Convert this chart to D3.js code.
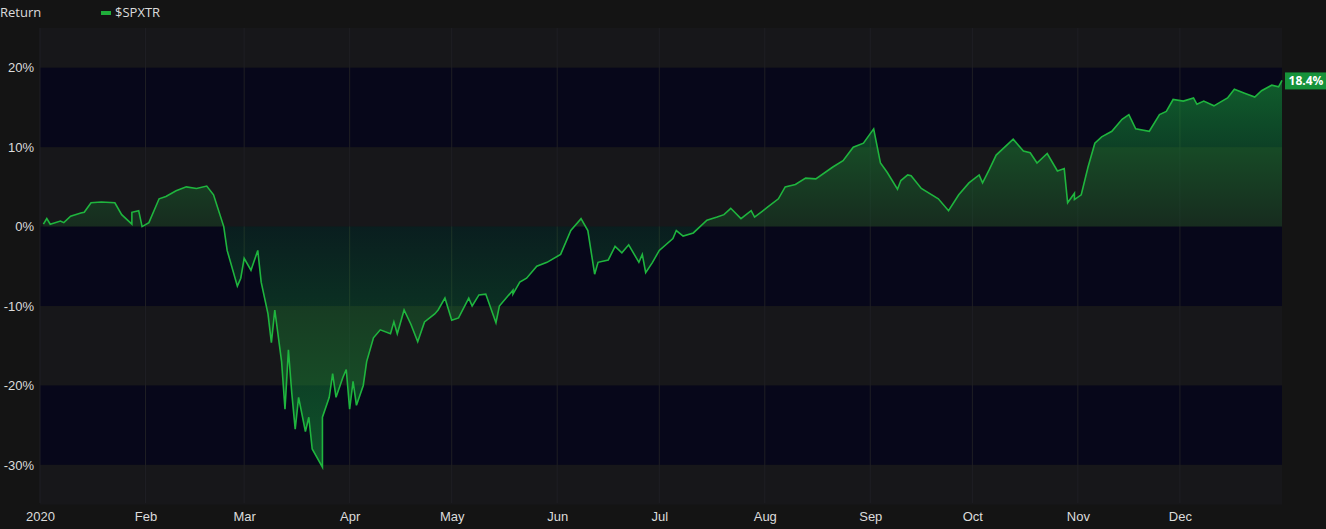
<!DOCTYPE html>
<html><head><meta charset="utf-8">
<script src="https://cdn.jsdelivr.net/npm/d3@7"></script>
<style>body{margin:0;background:#141414;}svg{display:block;font-family:"Open Sans",sans-serif;}</style>
</head><body><svg id="c" width="1326" height="529"></svg>
<script>
// day of year 2020 (0 = Jan 1) and cumulative return in %
const days = [1,2,3,6,7,9,12,13,15,18,22,24,27,27,29,30,32,35,37,40,43,46,49,51,54,55,58,59,60,62,64,65,67,68,69,71,72,73,74,75,76,78,79,80,83,83,85,86,87,89,90,91,92,93,95,96,98,100,103,104,105,107,109,111,113,116,117,119,121,123,126,127,129,131,134,135,137,139,139,141,143,146,149,153,156,159,161,163,164,167,169,171,173,176,177,178,180,182,186,187,189,192,196,199,201,203,206,209,210,214,217,219,222,225,228,233,236,239,242,245,247,249,252,253,255,256,259,264,267,270,273,276,277,279,281,286,289,291,293,296,299,301,302,304,304,306,308,310,312,315,318,320,322,326,329,331,333,336,339,340,342,345,347,349,351,354,357,359,362,364,365];
const returns = [0.3,1.0,0.3,0.7,0.5,1.3,1.7,1.8,3.0,3.1,3.0,1.5,0.3,1.8,2.0,0,0.5,3.5,3.8,4.5,5.0,4.8,5.1,4.0,0,-3.0,-7.5,-6.5,-4,-5.5,-3,-7,-11,-14.6,-10.5,-17,-23,-15.5,-21,-25.5,-21.5,-25.8,-24,-28,-30.3,-24,-21.5,-18.5,-21.5,-19,-18,-23,-19.5,-22.5,-20,-17,-14,-13,-13.5,-12,-13.5,-10.5,-12.3,-14.5,-12,-11,-10.5,-9,-11.8,-11.5,-9,-10,-8.6,-8.5,-12.1,-10,-9,-8,-8.5,-7,-6.5,-5,-4.5,-3.5,-0.5,1,-0.5,-6,-4.5,-4.2,-2.5,-3.3,-2.3,-4.5,-3.5,-5.8,-4.5,-3,-1.5,-0.5,-1.2,-0.8,0.8,1.2,1.5,2.3,1.0,2.0,1.2,2.5,3.5,5.0,5.3,6.1,6.0,7.5,8.3,10,10.5,12.3,8,6.8,4.7,5.8,6.5,6.4,4.8,3.5,2,4,5.5,6.5,5.5,7.2,9,11,9.5,9.3,8,9.2,7,7.3,3,4.2,3.4,4,7.5,10.5,11.3,12,13.5,14.1,12.3,12,14.1,14.5,16,15.8,16.2,15.4,15.8,15.2,15.7,16.2,17.3,16.8,16.3,17.1,17.8,17.6,18.4];
const yTicks = [20,10,0,-10,-20,-30];
const bands = [[20,25],[0,10],[-20,-10],[-35,-30]];
const seriesName = "$SPXTR";

const start = new Date(2020,0,1);
const data = days.map((d,i)=>({date:d3.timeDay.offset(start,d), v:returns[i]}));
const svg = d3.select("#c");
const L=40, R=1282, T=28, B=503;
const x = d3.scaleTime().domain([start,new Date(2020,11,31)]).range([L,R]);
const y = d3.scaleLinear().domain([-34.8,25]).range([B,T]);

svg.append("rect").attr("x",L).attr("y",T).attr("width",R-L).attr("height",B-T).attr("fill","#07071a");
svg.selectAll("rect.band").data(bands).join("rect").attr("class","band")
  .attr("x",L).attr("width",R-L).attr("y",d=>y(d[1])).attr("height",d=>y(d[0])-y(d[1])).attr("fill","#17171a");

const months = d3.timeMonth.range(start,new Date(2020,11,31));
svg.selectAll("line.vg").data(months).join("line").attr("class","vg")
  .attr("x1",d=>x(d)).attr("x2",d=>x(d)).attr("y1",T).attr("y2",B).attr("stroke","#1f1f24").attr("stroke-width",1);

const defs = svg.append("defs");
const g = defs.append("linearGradient").attr("id","gr").attr("gradientUnits","userSpaceOnUse")
  .attr("x1",0).attr("x2",0).attr("y1",y(20)).attr("y2",y(-30));
[[0,0.6],[0.4,0.15],[1,0.5]].forEach(s=>g.append("stop").attr("offset",s[0]).attr("stop-color","#17a03a").attr("stop-opacity",s[1]));

svg.append("path").datum(data).attr("fill","url(#gr)")
  .attr("d",d3.area().x(d=>x(d.date)).y0(y(0)).y1(d=>y(d.v)));
svg.append("path").datum(data).attr("fill","none").attr("stroke","#1fb53e").attr("stroke-width",1.6)
  .attr("d",d3.line().x(d=>x(d.date)).y(d=>y(d.v)));

const yAxis = svg.append("g").attr("transform",`translate(${L},0)`)
  .call(d3.axisLeft(y).tickValues(yTicks).tickFormat(d=>d+"%").tickSize(0).tickPadding(6));
yAxis.select(".domain").remove();
yAxis.selectAll("text").attr("fill","#dcdcdc").attr("font-size",13);

const xAxis = svg.append("g").attr("transform",`translate(0,${B})`)
  .call(d3.axisBottom(x).tickValues(months).tickFormat(d=>d.getMonth()===0?"2020":d3.timeFormat("%b")(d)).tickSize(0).tickPadding(9));
xAxis.select(".domain").remove();
xAxis.selectAll("text").attr("fill","#dcdcdc").attr("font-size",13);

const last = data[data.length-1];
svg.append("rect").attr("x",R+3).attr("y",y(last.v)-8).attr("width",41).attr("height",17).attr("fill","#16923a");
svg.append("text").attr("x",R+24).attr("y",y(last.v)+5).attr("text-anchor","middle").attr("fill","#fff")
  .attr("font-size",12).attr("font-weight","bold").text(last.v.toFixed(1)+"%");

svg.append("text").attr("x",0).attr("y",17).attr("fill","#dcdcdc").attr("font-size",13).text("Return");
svg.append("rect").attr("x",101).attr("y",11).attr("width",10).attr("height",4).attr("fill","#1fae3a");
svg.append("text").attr("x",115).attr("y",17).attr("fill","#dcdcdc").attr("font-size",13).text(seriesName);
</script></body></html>
